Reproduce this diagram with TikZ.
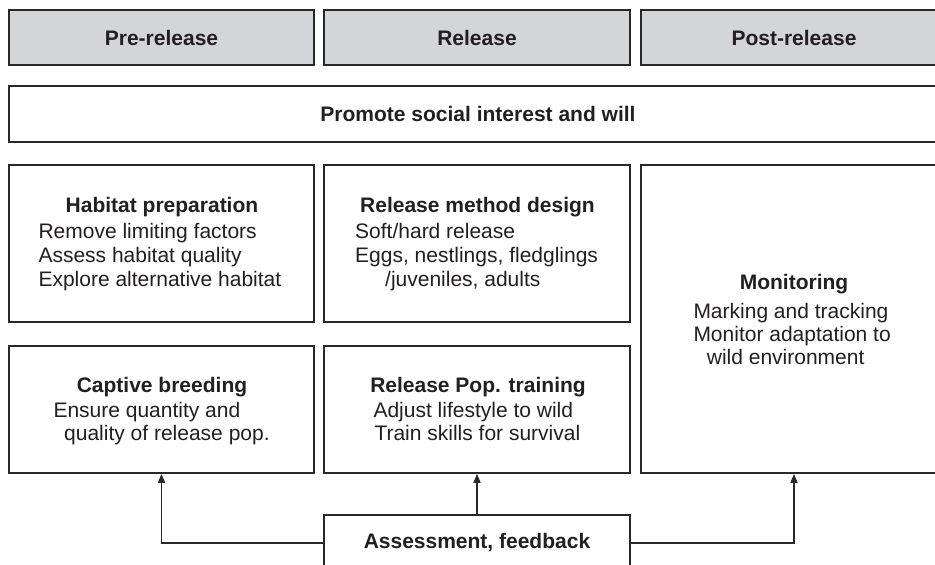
\documentclass[tikz,border=0pt]{standalone}
\usepackage{fontspec}
\setmainfont{Liberation Sans}
\usetikzlibrary{arrows.meta}
\definecolor{linec}{RGB}{40,40,40}
\definecolor{textc}{RGB}{35,31,32}
\definecolor{headfill}{RGB}{212,213,215}
\tikzset{
  box/.style={draw=linec, line width=1.6pt, inner sep=0pt, fill=white},
  headbox/.style={box, fill=headfill},
  lbl/.style={inner sep=0pt, text=textc, font=\fontsize{21}{24}\selectfont},
  ttl/.style={inner sep=0pt, text=textc, font=\fontsize{21}{24}\selectfont\bfseries},
  arr/.style={draw=linec, line width=1.6pt, -{Triangle[length=9pt,width=7pt]}}
}
\begin{document}
\begin{tikzpicture}[x=1pt,y=-1pt]
\clip (0,0) rectangle (935,565);
\fill[white] (0,0) rectangle (935,565);
% header boxes
\node[headbox, minimum width=305pt, minimum height=55pt] (pre) at (161.5,37.5) {};
\node[headbox, minimum width=306pt, minimum height=55pt] (rel) at (477,37.5) {};
\node[headbox, minimum width=306pt, minimum height=55pt] (post) at (794,37.5) {};
\node[ttl, anchor=base] (pret) at (161.5,45.7) {Pre-release};
\node[ttl, anchor=base] (relt) at (477,45.7) {Release};
\node[ttl, anchor=base] (postt) at (794,45.7) {Post-release};
% promote
\node[box, minimum width=938pt, minimum height=56pt] (prom) at (478,114) {};
\node[ttl, anchor=base] (promt) at (478,121.7) {Promote social interest and will};
% habitat
\node[box, minimum width=305pt, minimum height=157pt] (hab) at (161.5,243.5) {};
\node[ttl, anchor=base] (habt) at (162,212) {Habitat preparation};
\node[lbl, anchor=base west] (hab1) at (38.3,238) {Remove limiting factors};
\node[lbl, anchor=base west] (hab2) at (38.3,262) {Assess habitat quality};
\node[lbl, anchor=base west] (hab3) at (38.3,286) {Explore alternative habitat};
% release method
\node[box, minimum width=306pt, minimum height=157pt] (rmd) at (477,243.5) {};
\node[ttl, anchor=base] (rmdt) at (477.5,212) {Release method design};
\node[lbl, anchor=base west] (rmd1) at (355,238) {Soft/hard release};
\node[lbl, anchor=base west] (rmd2) at (355,262) {Eggs, nestlings, fledglings};
\node[lbl, anchor=base west] (rmd3) at (385,286) {/juveniles, adults};
% monitoring
\node[box, minimum width=306pt, minimum height=308pt] (mon) at (794,319) {};
\node[ttl, anchor=base] (mont) at (794,289.3) {Monitoring};
\node[lbl, anchor=base west] (mon1) at (693.3,318) {Marking and tracking};
\node[lbl, anchor=base west] (mon2) at (693.3,341) {Monitor adaptation to};
\node[lbl, anchor=base west] (mon3) at (706.7,364) {wild environment};
% captive breeding
\node[box, minimum width=305pt, minimum height=127pt] (cap) at (161.5,409.5) {};
\node[ttl, anchor=base] (capt) at (162,392) {Captive breeding};
\node[lbl, anchor=base west] (cap1) at (53.3,417.5) {Ensure quantity and};
\node[lbl, anchor=base west] (cap2) at (64,440.5) {quality of release pop.};
% training
\node[box, minimum width=306pt, minimum height=127pt] (trn) at (477,409.5) {};
\node[ttl, anchor=base] (trnt) at (478,392) {Release Pop. training};
\node[lbl, anchor=base west] (trn1) at (373.3,417.5) {Adjust lifestyle to wild};
\node[lbl, anchor=base west] (trn2) at (374.3,440.5) {Train skills for survival};
% assessment
\node[box, minimum width=306pt, minimum height=56pt] (ass) at (477,543) {};
\node[ttl, anchor=base] (asst) at (477,548) {Assessment, feedback};
% connectors
\draw[arr] (ass.west) -| (cap.south);
\draw[arr] (ass.north) -- (trn.south);
\draw[arr] (ass.east) -| (mon.south);
\end{tikzpicture}
\end{document}
